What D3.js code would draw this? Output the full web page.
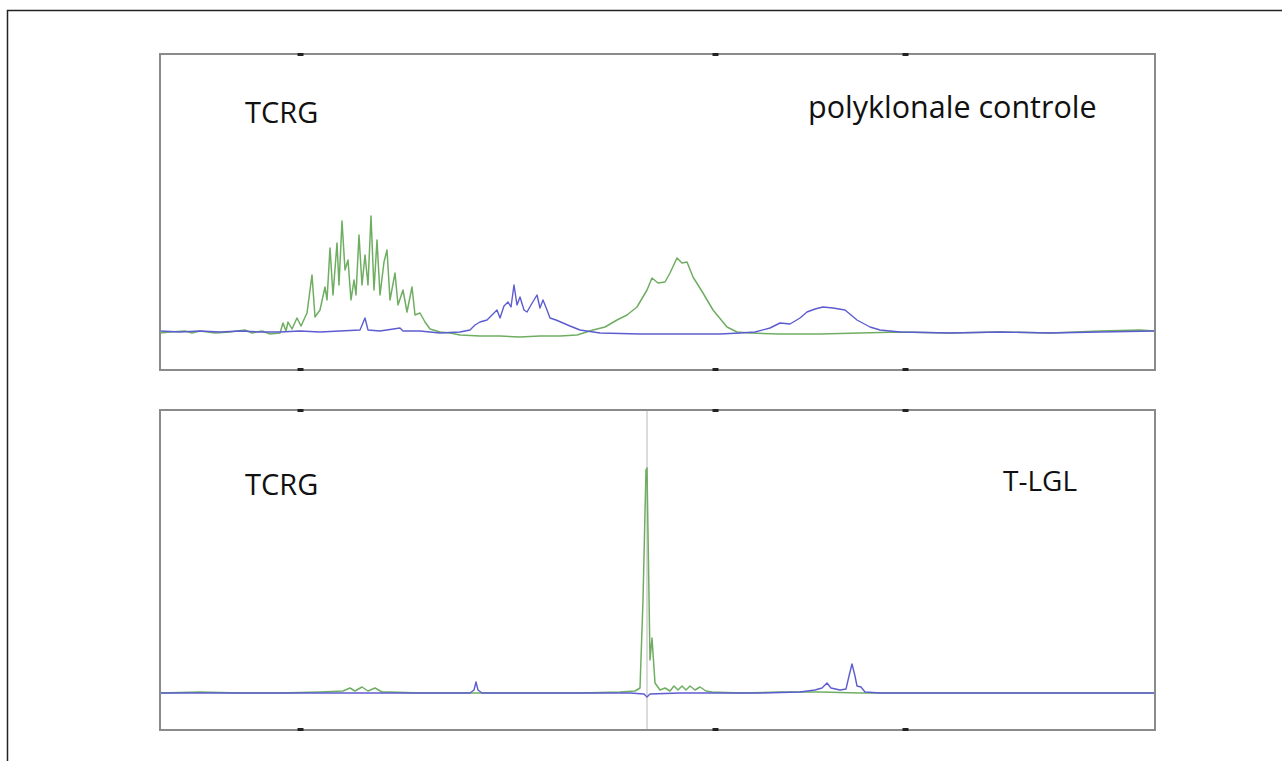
<!DOCTYPE html>
<html>
<head>
<meta charset="utf-8">
<script src="https://cdn.jsdelivr.net/npm/d3@7"></script>
<style>
  body { margin: 0; background: #fff; }
  svg { display: block; }
  text { font-family: "Open Sans", sans-serif; fill: #111; }
</style>
</head>
<body>
<svg></svg>
<script>
var width = 1282;
var height = 761;

// x in fragment size (bp), y in RFU
var xDomain = [80, 279];
var tickValues = [108, 191, 229];

// top panel: polyclonal control
var polyGreen = [[80,-10],[82,0],[85,10],[86.4,-10],[88,10],[91,-10],[94,0],[97,20],[98.4,-10],[100.4,10],[102,-20],[104,-10],
  [104.6,90],[105.2,10],[105.6,100],[106.4,30],[107.4,140],[108.2,60],[109.4,190],[110.4,570],[111,150],[112,220],[113,450],
  [113.4,320],[114,840],[114.6,370],[115.4,890],[115.8,470],[116.4,1110],[117,620],[117.6,720],[118.2,320],[118.8,520],
  [119.2,370],[119.8,970],[120.4,470],[121,770],[121.6,470],[122.2,1160],[122.8,420],[123.4,920],[124,370],[124.8,700],
  [125.4,820],[126,320],[127,590],[127.6,270],[128.6,420],[129.4,200],[130.4,450],[131,170],[132,190],[133,100],[134,30],
  [136,0],[138,-10],[140,-30],[144,-40],[148,-40],[152,-50],[156,-40],[160,-40],[163.4,-30],[166.6,20],[169,50],[171.4,120],
  [173.4,170],[175.4,250],[177.4,420],[178.4,540],[179.6,490],[181,500],[182,590],[183.4,740],[184.4,690],[185.4,700],
  [186.6,550],[188.6,390],[190.6,220],[193.4,50],[195.4,0],[198,-10],[204,-20],[212,-20],[220,-10],[228,0],[238,-10],
  [248,0],[258,-10],[268,10],[276,20],[279,10]];
var polyBlue = [[80,10],[84,0],[88,10],[92,0],[96,10],[100,0],[104,0],[108,10],[112,0],[116,10],[120,20],[121,140],[121.6,20],
  [124,10],[128,40],[128.6,10],[132,10],[136,-10],[140,0],[142,20],[143,70],[144,100],[145.4,120],[146.4,170],[147.4,220],
  [148,140],[148.8,260],[149.6,300],[150.2,250],[150.8,470],[151.4,270],[152,350],[152.8,220],[153.4,200],[154.2,270],
  [154.8,320],[155.4,370],[156,240],[156.6,320],[157.4,220],[158,140],[159.2,120],[160.6,90],[162,60],[164,20],[168,-10],
  [176,-20],[184,-20],[192,-20],[196,-10],[199,0],[202,40],[204,90],[206,80],[208,140],[209.4,200],[211,230],[212.6,250],
  [214.6,240],[217,220],[218.2,170],[219.4,120],[222,50],[224,20],[228,0],[238,-10],[248,0],[258,-10],[268,0],[279,10]];

// bottom panel: T-LGL
var lglGreen = [[80,0],[88,10],[96,0],[104,0],[112,10],[116.6,20],[118,50],[119,20],[120.4,60],[121.6,20],[123,50],[124.4,10],
  [126,10],[132,0],[140,0],[148,0],[156,0],[164,0],[172,10],[175,20],[176,50],[176.6,930],[177.2,2230],[177.4,2250],
  [177.6,1600],[178,330],[178.4,550],[179,100],[180,30],[181,50],[182,20],[182.8,70],[183.6,30],[184.4,70],[185.2,30],
  [186,70],[187,30],[188,60],[189.2,20],[190.4,10],[196,0],[204,10],[212,10],[220,0],[228,0],[248,0],[268,0],[279,0]];
var lglBlue = [[80,0],[98,0],[118,0],[142,0],[142.8,30],[143.2,110],[143.6,30],[144.4,0],[160,0],[174,0],[176.8,-10],[177.4,-40],
  [178,-10],[184,0],[200,0],[208,10],[211,30],[212.4,50],[213.4,100],[214.2,50],[216,30],[217.2,40],[217.8,170],[218.4,290],
  [219,170],[219.4,70],[220.2,60],[221,10],[224,0],[248,0],[279,0]];
var cloneSize = 177.4;

var panels = [
  {top: 54, bottom: 370, yDomain: [-380, 2780], green: polyGreen, blue: polyBlue,
   left: 'TCRG', right: 'polyklonale controle', rightX: 808, rightSize: 30.5, marker: false},
  {top: 410, bottom: 730, yDomain: [-370, 2830], green: lglGreen, blue: lglBlue,
   left: 'TCRG', right: 'T-LGL', rightX: 1003, rightSize: 28, marker: true}
];

var svg = d3.select('svg')
    .attr('width', width)
    .attr('height', height);

// outer frame (only left/top edges fall inside the picture)
svg.append('rect')
    .attr('x', 7.5).attr('y', 10.5)
    .attr('width', 1400).attr('height', 900)
    .attr('fill', 'none')
    .attr('stroke', '#222')
    .attr('stroke-width', 1.5);

var xScale = d3.scaleLinear().domain(xDomain).range([160, 1155]);

panels.forEach(function (p) {
  var yScale = d3.scaleLinear().domain(p.yDomain).range([p.bottom, p.top]);
  var g = svg.append('g');

  var line = d3.line()
      .x(d => xScale(d[0]))
      .y(d => yScale(d[1]));

  if (p.marker) {
    g.append('line')
        .attr('x1', xScale(cloneSize)).attr('x2', xScale(cloneSize))
        .attr('y1', p.top).attr('y2', p.bottom)
        .attr('stroke', '#cfcfcf')
        .attr('stroke-width', 1.5);
  }

  g.append('path')
      .datum(p.green)
      .attr('d', line)
      .attr('fill', 'none')
      .attr('stroke', '#6fae62')
      .attr('stroke-width', 1.5)
      .attr('stroke-linejoin', 'round');

  g.append('path')
      .datum(p.blue)
      .attr('d', line)
      .attr('fill', 'none')
      .attr('stroke', '#5c5cd0')
      .attr('stroke-width', 1.4)
      .attr('stroke-linejoin', 'round');

  g.append('rect')
      .attr('x', 160).attr('y', p.top)
      .attr('width', 995).attr('height', p.bottom - p.top)
      .attr('fill', 'none')
      .attr('stroke', '#8a8a8a')
      .attr('stroke-width', 2);

  // small tick blocks on the frame
  var axTop = d3.axisBottom(xScale).tickValues(tickValues).tickSize(3).tickSizeOuter(0).tickFormat('');
  var axBot = d3.axisTop(xScale).tickValues(tickValues).tickSize(3).tickSizeOuter(0).tickFormat('');
  [[axTop, p.top - 1], [axBot, p.bottom + 1]].forEach(function (a) {
    var ag = g.append('g').attr('transform', `translate(0,${a[1]})`).call(a[0]);
    ag.select('.domain').remove();
    ag.selectAll('line').attr('stroke', '#222').attr('stroke-width', 6);
  });

  g.append('text')
      .attr('x', 245).attr('y', p.top + (p.marker ? 85 : 69))
      .style('font-size', '29px')
      .text(p.left);

  g.append('text')
      .attr('x', p.rightX).attr('y', p.top + (p.marker ? 81 : 64))
      .style('font-size', p.rightSize + 'px')
      .text(p.right);
});
</script>
</body>
</html>
